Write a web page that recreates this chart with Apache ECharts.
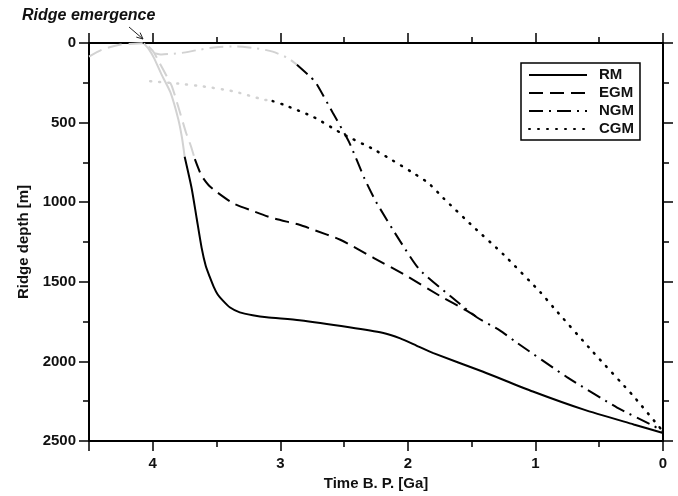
<!DOCTYPE html>
<html>
<head>
<meta charset="utf-8">
<script src="https://cdn.jsdelivr.net/npm/echarts@6/dist/echarts.min.js"></script>
<style>
  html, body { margin: 0; padding: 0; background: #fff; }
  #chart { width: 678px; height: 496px; }
</style>
</head>
<body>
<div id="chart"></div>
<script>
// time before present [Ga] and ridge depth [m] for each model
// grey = early part of the curve, black = rest
const rmGreyTime = [4.07, 4.03, 3.99, 3.93, 3.86, 3.80, 3.77, 3.75]
const rmGreyDepth = [2, 40, 95, 200, 313, 479, 600, 715]
const rmTime = [3.75, 3.695, 3.656, 3.617, 3.585, 3.554, 3.523, 3.491, 3.452, 3.397, 3.318, 3.217, 3.107, 2.85, 2.46, 2.2, 2.06, 1.93, 1.80, 1.41, 1.02, 0.62, 0.23, 0]
const rmDepth = [715, 914, 1101, 1287, 1399, 1468, 1530, 1580, 1617, 1660, 1692, 1710, 1723, 1741, 1785, 1820, 1855, 1902, 1948, 2065, 2189, 2303, 2396, 2450]

const egmGreyTime = [4.5, 4.4, 4.27, 4.15, 4.07, 4.0, 3.95, 3.89, 3.85, 3.80, 3.74, 3.70, 3.67]
const egmGreyDepth = [85, 43, 12, 4, 2, 50, 120, 210, 272, 400, 562, 650, 730]
const egmTime = [3.67, 3.62, 3.56, 3.50, 3.37, 3.20, 3.06, 2.85, 2.74, 2.53, 2.27, 2.01, 1.75, 1.54, 1.44]
const egmDepth = [730, 830, 895, 935, 1007, 1060, 1100, 1142, 1173, 1236, 1349, 1463, 1588, 1681, 1730]

const ngmGreyTime = [3.99, 3.93, 3.85, 3.77, 3.64, 3.50, 3.34, 3.19, 3.06, 2.94, 2.87]
const ngmGreyDepth = [64, 72, 68, 62, 43, 26, 22, 33, 54, 95, 137]
const ngmTime = [2.87, 2.77, 2.72, 2.59, 2.46, 2.34, 2.25, 2.06, 1.91, 1.67, 1.46, 1.28, 1.15, 0.75, 0.36, 0.07, 0]
const ngmDepth = [137, 209, 251, 437, 624, 852, 997, 1246, 1422, 1588, 1723, 1805, 1880, 2100, 2290, 2407, 2440]

const cgmGreyTime = [4.02, 3.80, 3.61, 3.37, 3.14, 3.06]
const cgmGreyDepth = [240, 255, 272, 303, 354, 365]
const cgmTime = [3.06, 2.98, 2.74, 2.51, 2.25, 1.85, 1.72, 1.49, 1.25, 0.96, 0.86, 0.55, 0.23, 0]
const cgmDepth = [365, 386, 465, 572, 676, 873, 976, 1152, 1329, 1567, 1660, 1940, 2220, 2440]

const modelNames = ['RM', 'EGM', 'NGM', 'CGM']
const lineTypes = ['solid', [14, 7], [14, 6, 2, 6], [1, 8]]

const FONT = "'Liberation Sans', Arial, sans-serif"
const GREY = '#d2d2d2'

function zip(xs, ys) {
  return xs.map((x, i) => [x, ys[i]])
}

function makeLine(name, data, color, type, z) {
  const dotted = type === lineTypes[3]
  return {
    name,
    type: 'line',
    data,
    smooth: 0.2,
    symbol: 'none',
    z,
    lineStyle: { color, width: dotted ? 2.5 : 2, type, cap: dotted ? 'round' : 'butt' },
    itemStyle: { color },
    emphasis: { disabled: true },
  }
}

const greyData = [
  zip(rmGreyTime, rmGreyDepth),
  zip(egmGreyTime, egmGreyDepth),
  zip(ngmGreyTime, ngmGreyDepth),
  zip(cgmGreyTime, cgmGreyDepth),
]
const blackData = [
  zip(rmTime, rmDepth),
  zip(egmTime, egmDepth),
  zip(ngmTime, ngmDepth),
  zip(cgmTime, cgmDepth),
]

const series = []
modelNames.forEach((n, i) => {
  series.push(makeLine(n + ' early', greyData[i], GREY, lineTypes[i], 2))
})
modelNames.forEach((n, i) => {
  series.push(makeLine(n, blackData[i], '#000', lineTypes[i], 3))
})

const tickStyle = { color: '#000', width: 1.5 }
const axisLine = { onZero: false, lineStyle: { color: '#000', width: 2 } }
const labelStyle = { color: '#111', fontSize: 15, fontWeight: 'bold', fontFamily: FONT }
const plain = (v) => String(v)

const chart = echarts.init(document.getElementById('chart'))

chart.setOption({
  animation: false,
  backgroundColor: '#fff',
  grid: { left: 89, right: 15, top: 43, bottom: 51 },
  xAxis: [
    {
      type: 'value', inverse: true, min: 0, max: 4.5, interval: 1,
      name: 'Time B. P. [Ga]', nameLocation: 'middle', nameGap: 35,
      nameTextStyle: labelStyle,
      axisLine, splitLine: { show: false },
      axisTick: { length: 10, lineStyle: tickStyle },
      minorTick: { show: true, splitNumber: 2, length: 6, lineStyle: tickStyle },
      axisLabel: Object.assign({ margin: 15, formatter: plain, showMaxLabel: false }, labelStyle),
    },
    {
      type: 'value', position: 'top', inverse: true, min: 0, max: 4.5, interval: 1,
      axisLine, splitLine: { show: false },
      axisTick: { length: 10, lineStyle: tickStyle },
      minorTick: { show: true, splitNumber: 2, length: 6, lineStyle: tickStyle },
      axisLabel: { show: false },
    },
  ],
  yAxis: [
    {
      type: 'value', inverse: true, min: 0, max: 2500, interval: 500,
      name: 'Ridge depth [m]', nameLocation: 'middle', nameGap: 55,
      nameTextStyle: labelStyle,
      axisLine, splitLine: { show: false },
      axisTick: { length: 10, lineStyle: tickStyle },
      minorTick: { show: true, splitNumber: 2, length: 6, lineStyle: tickStyle },
      axisLabel: Object.assign({ margin: 13, formatter: plain }, labelStyle),
    },
    {
      type: 'value', position: 'right', inverse: true, min: 0, max: 2500, interval: 500,
      axisLine, splitLine: { show: false },
      axisTick: { length: 10, lineStyle: tickStyle },
      minorTick: { show: true, splitNumber: 2, length: 6, lineStyle: tickStyle },
      axisLabel: { show: false },
    },
  ],
  legend: {
    data: modelNames,
    orient: 'vertical',
    left: 521,
    top: 63,
    padding: [4, 6, 3, 7],
    itemWidth: 58,
    itemHeight: 12,
    itemGap: 2,
    backgroundColor: '#fff',
    borderColor: '#000',
    borderWidth: 1.5,
    borderRadius: 0,
    selectedMode: false,
    itemStyle: { opacity: 0 },
    textStyle: { color: '#111', fontSize: 15, lineHeight: 16, fontWeight: 'bold', fontFamily: FONT, padding: [0, 0, 0, 7] },
  },
  graphic: [
    {
      type: 'text', left: 22, top: 8,
      style: { text: 'Ridge emergence', fill: '#111', font: "italic bold 16px 'Liberation Sans', Arial, sans-serif" },
    },
    {
      type: 'line', shape: { x1: 129, y1: 27, x2: 143, y2: 39 },
      style: { stroke: '#222', lineWidth: 1 },
    },
    {
      type: 'polyline', shape: { points: [[140.1, 32.6], [143, 39], [136.3, 37.1]] },
      style: { stroke: '#222', lineWidth: 1, fill: null },
    },
  ],
  series,
})
</script>
</body>
</html>
